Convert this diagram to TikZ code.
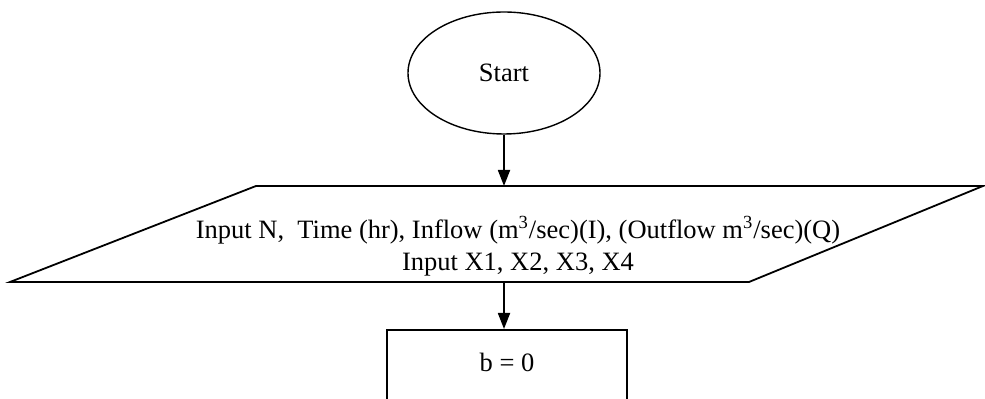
\documentclass[tikz,border=0pt]{standalone}
\usepackage{fontspec}
\setmainfont{Liberation Serif}
\usetikzlibrary{arrows.meta,positioning,shapes.geometric}

\begin{document}
\begin{tikzpicture}[
  x=0.5pt,y=-0.5pt,
  every node/.style={font=\fontsize{13.25}{16}\selectfont},
  startnode/.style={draw,ellipse,line width=0.7pt,minimum width=96pt,minimum height=61pt,inner sep=0pt},
  iobox/.style={draw,line width=0.9pt},
  iotext/.style={align=center,inner sep=0pt},
  procbox/.style={draw,line width=0.9pt,minimum width=120pt,anchor=north,
                  text height=17.5pt,text depth=60pt},
  arr/.style={-{Triangle[length=8pt,width=6pt]},line width=0.9pt}
]
  \useasboundingbox (0,0) rectangle (985,399);
  \clip (0,0) rectangle (985,399);

  \node[startnode] (start) at (504,73) {Start};

  % input parallelogram
  \coordinate (pa) at (256,186);
  \coordinate (pb) at (983,186);
  \coordinate (pc) at (749,282);
  \coordinate (pd) at (10,282);
  \draw[iobox] (pa) -- (pb) -- (pc) -- (pd) -- cycle;
  \node[iotext] (input) at (518,246)
    {Input N,\ \ Time (hr), Inflow (m\textsuperscript{3}/sec)(I), (Outflow m\textsuperscript{3}/sec)(Q)\\Input X1, X2, X3, X4};

  \node[procbox] (init) at (507,329) {b = 0};

  \draw[arr] (start.south) -- (start.south |- pa);
  \draw[arr] (start.south |- pd) -- (init.north -| start.south);
\end{tikzpicture}
\end{document}
